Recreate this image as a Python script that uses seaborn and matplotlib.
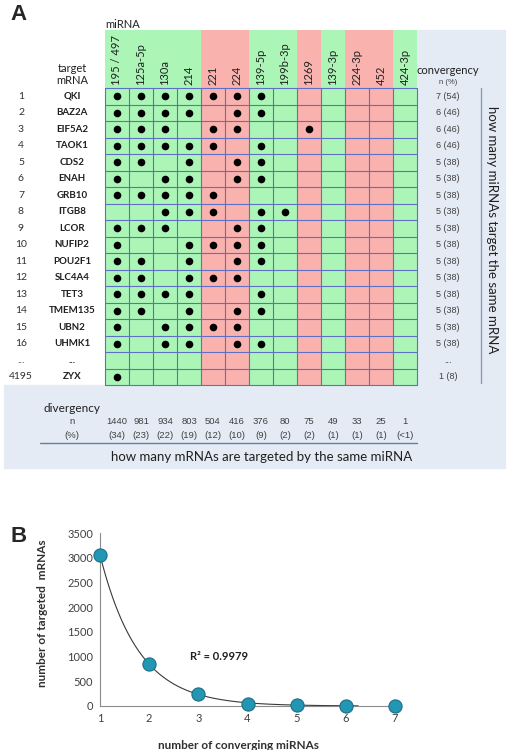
import numpy as np
import pandas as pd
import matplotlib
matplotlib.use('Agg')
import matplotlib.pyplot as plt
import matplotlib.transforms as mtransforms
from matplotlib.colors import ListedColormap
from matplotlib.patches import Rectangle
from matplotlib.lines import Line2D
import seaborn as sns

sns.set_theme(style='white')
plt.rcParams['font.family'] = ['Lato', 'DejaVu Sans']

# ---- panel A data ----
mirnas = ['195 / 497', '125a-5p', '130a', '214', '221', '224', '139-5p',
          '199b-3p', '1269', '139-3p', '224-3p', '452', '424-3p']
mirna_group = [0, 0, 0, 0, 1, 1, 0, 0, 1, 0, 1, 1, 0]  # 0 = green, 1 = red

row_numbers = [str(i) for i in range(1, 17)] + ['...', '4195']
genes = ['QKI', 'BAZ2A', 'EIF5A2', 'TAOK1', 'CDS2', 'ENAH', 'GRB10', 'ITGB8',
         'LCOR', 'NUFIP2', 'POU2F1', 'SLC4A4', 'TET3', 'TMEM135', 'UBN2',
         'UHMK1', '...', 'ZYX']

hits = [
    [1, 1, 1, 1, 1, 1, 1, 0, 0, 0, 0, 0, 0],
    [1, 1, 1, 1, 0, 1, 1, 0, 0, 0, 0, 0, 0],
    [1, 1, 1, 0, 1, 1, 0, 0, 1, 0, 0, 0, 0],
    [1, 1, 1, 1, 1, 0, 1, 0, 0, 0, 0, 0, 0],
    [1, 1, 0, 1, 0, 1, 1, 0, 0, 0, 0, 0, 0],
    [1, 0, 1, 1, 0, 1, 1, 0, 0, 0, 0, 0, 0],
    [1, 1, 1, 1, 1, 0, 0, 0, 0, 0, 0, 0, 0],
    [0, 0, 1, 1, 1, 0, 1, 1, 0, 0, 0, 0, 0],
    [1, 1, 1, 0, 0, 1, 1, 0, 0, 0, 0, 0, 0],
    [1, 0, 0, 1, 1, 1, 1, 0, 0, 0, 0, 0, 0],
    [1, 1, 0, 1, 0, 1, 1, 0, 0, 0, 0, 0, 0],
    [1, 1, 0, 1, 1, 1, 0, 0, 0, 0, 0, 0, 0],
    [1, 1, 1, 1, 0, 0, 1, 0, 0, 0, 0, 0, 0],
    [1, 1, 0, 1, 0, 1, 1, 0, 0, 0, 0, 0, 0],
    [1, 0, 1, 1, 1, 1, 0, 0, 0, 0, 0, 0, 0],
    [1, 0, 1, 1, 0, 1, 1, 0, 0, 0, 0, 0, 0],
    [0, 0, 0, 0, 0, 0, 0, 0, 0, 0, 0, 0, 0],
    [1, 0, 0, 0, 0, 0, 0, 0, 0, 0, 0, 0, 0],
]

convergency = ['7 (54)', '6 (46)', '6 (46)', '6 (46)'] + ['5 (38)'] * 12 + ['...', '1 (8)']
div_n = ['1440', '981', '934', '803', '504', '416', '376', '80', '75', '49', '33', '25', '1']
div_pct = ['(34)', '(23)', '(22)', '(19)', '(12)', '(10)', '(9)', '(2)', '(2)',
           '(1)', '(1)', '(1)', '(<1)']

# ---- panel B data ----
n_converging = [1, 2, 3, 4, 5, 6, 7]
n_targeted = [3055, 845, 240, 39, 12, 3, 1]
r2_label = 'R² = 0.9979'

GREEN = '#abf5b6'
RED = '#f9b2ae'
GRIDLINE = '#5f6fc4'
PANEL_BG = '#e5ebf4'
W, H = 509, 750

fig = plt.figure(figsize=(W / 100, H / 100), dpi=100)


def px_axes(x0, y0, x1, y1):
    return fig.add_axes([x0 / W, 1 - y1 / H, (x1 - x0) / W, (y1 - y0) / H])


def fx(x):
    return x / W


def fy(y):
    return 1 - y / H


# light background panels
fig.patches.append(Rectangle((fx(417), fy(385)), fx(505) - fx(417), fy(30) - fy(385),
                             transform=fig.transFigure, color=PANEL_BG, zorder=-5))
fig.patches.append(Rectangle((fx(4), fy(468)), fx(505) - fx(4), fy(385) - fy(468),
                             transform=fig.transFigure, color=PANEL_BG, zorder=-5))

cmap = ListedColormap([GREEN, RED])

# header band with rotated miRNA names
ax_head = px_axes(105, 30, 417, 88)
sns.heatmap(np.array([mirna_group]), cmap=cmap, vmin=0, vmax=1, cbar=False,
            xticklabels=False, yticklabels=False, ax=ax_head)
for i, name in enumerate(mirnas):
    ax_head.text(i + 0.5, 0.95, name, rotation=90, ha='center', va='bottom',
                 fontsize=8, color='#202020')

# main grid
ax = px_axes(105, 88, 417, 385)
grid_vals = np.tile(mirna_group, (len(genes), 1))
sns.heatmap(grid_vals, cmap=cmap, vmin=0, vmax=1, cbar=False, linewidths=0,
            xticklabels=False, yticklabels=False, ax=ax)
for r in range(len(genes) + 1):
    ax.axhline(r, color=GRIDLINE, lw=0.8, zorder=2, clip_on=False)
for c in range(len(mirnas) + 1):
    ax.axvline(c, color=GRIDLINE, lw=0.8, zorder=2, clip_on=False)

dots = pd.DataFrame([(c + 0.5, r + 0.5) for r, row in enumerate(hits)
                     for c, v in enumerate(row) if v], columns=['col', 'row'])
sns.scatterplot(data=dots, x='col', y='row', color='black', s=30, linewidth=0,
                ax=ax, legend=False, zorder=3)
ax.set_xlim(0, len(mirnas))
ax.set_ylim(len(genes), 0)
ax.set_xlabel('')
ax.set_ylabel('')

# row labels and convergency column
row_tf = mtransforms.blended_transform_factory(fig.transFigure, ax.transData)
for r in range(len(genes)):
    ax.text(fx(21), r + 0.5, row_numbers[r], transform=row_tf, ha='center',
            va='center', fontsize=7.5, color='#303030')
    ax.text(fx(72), r + 0.5, genes[r], transform=row_tf, ha='center',
            va='center', fontsize=7, fontweight='bold', color='#202020')
    ax.text(fx(448), r + 0.5, convergency[r], transform=row_tf, ha='center',
            va='center', fontsize=6.5, color='#404040', family='Liberation Sans')

fig.text(fx(10), fy(15), 'A', fontsize=16, fontweight='bold', va='center',
         family='Liberation Sans')
fig.text(fx(105), fy(24), 'miRNA', fontsize=8, va='center', color='#202020')
fig.text(fx(72), fy(68), 'target', fontsize=8, ha='center', va='center', color='#202020')
fig.text(fx(72), fy(81), 'mRNA', fontsize=8, ha='center', va='center', color='#202020')
fig.text(fx(448), fy(71), 'convergency', fontsize=8, ha='center', va='center', color='#202020')
fig.text(fx(448), fy(82), 'n (%)', fontsize=5.5, ha='center', va='center',
         color='#404040', family='Liberation Sans')
fig.add_artist(Line2D([fx(481), fx(481)], [fy(88), fy(383)], color='#8a9bc0', lw=1))
fig.text(fx(492), fy(230), 'how many miRNAs target the same mRNA', rotation=-90,
         ha='center', va='center', fontsize=9.5, color='#202020')

# divergency rows
col_tf = mtransforms.blended_transform_factory(ax.transData, fig.transFigure)
for c in range(len(mirnas)):
    ax.text(c + 0.5, fy(421), div_n[c], transform=col_tf, ha='center', va='center',
            fontsize=6.8, color='#404040', family='Liberation Sans')
    ax.text(c + 0.5, fy(436), div_pct[c], transform=col_tf, ha='center', va='center',
            fontsize=6.8, color='#404040', family='Liberation Sans')
fig.text(fx(72), fy(408), 'divergency', fontsize=8.5, ha='center', va='center', color='#202020')
fig.text(fx(72), fy(421), 'n', fontsize=6.8, ha='center', va='center',
         color='#404040', family='Liberation Sans')
fig.text(fx(72), fy(436), '(%)', fontsize=6.8, ha='center', va='center',
         color='#404040', family='Liberation Sans')
fig.add_artist(Line2D([fx(40), fx(417)], [fy(443), fy(443)], color='#5d7fb0', lw=1))
fig.text(fx(262), fy(457), 'how many mRNAs are targeted by the same miRNA',
         fontsize=9.5, ha='center', va='center', color='#202020')

# ---- panel B ----
fig.text(fx(10), fy(536), 'B', fontsize=16, fontweight='bold', va='center',
         family='Liberation Sans')
axb = px_axes(100, 533, 398, 706)
x_arr = np.array(n_converging, dtype=float)
y_arr = np.array(n_targeted, dtype=float)
coef = np.polyfit(x_arr, np.log(y_arr), 1, w=y_arr)
x_fit = np.linspace(1, 6.25, 200)
y_fit = np.exp(coef[1]) * np.exp(coef[0] * x_fit)
sns.lineplot(x=x_fit, y=y_fit, color='#3a3a3a', lw=0.8, ax=axb)
sns.scatterplot(x=n_converging, y=n_targeted, s=90, color='#2396b4',
                edgecolor='#1a6f88', linewidth=0.8, clip_on=False, zorder=3,
                ax=axb, legend=False)
axb.set_xlim(1, 7.06)
axb.set_ylim(0, 3500)
axb.set_xticks(n_converging)
axb.set_yticks(np.arange(0, 3501, 500))
for side in ['top', 'right']:
    axb.spines[side].set_visible(False)
for side in ['left', 'bottom']:
    axb.spines[side].set_color('#8c8c8c')
    axb.spines[side].set_linewidth(0.8)
axb.tick_params(axis='both', which='major', direction='out', length=3, width=0.8,
                color='#8c8c8c', labelsize=8, labelcolor='#404040', pad=2)
axb.set_xlabel('number of converging miRNAs', fontsize=8.5, fontweight='bold', color='#303030')
axb.set_ylabel('number of targeted  mRNAs', fontsize=8.5, fontweight='bold', color='#303030')
axb.xaxis.set_label_coords((239 - 100) / 298, (706 - 740) / 173)
axb.yaxis.set_label_coords((48 - 100) / 298, (706 - 613) / 173)
axb.text(2.83, 1010, r2_label, fontsize=8, fontweight='bold', color='#202020',
         va='center', ha='left')

fig.savefig('out.png', dpi=100)
